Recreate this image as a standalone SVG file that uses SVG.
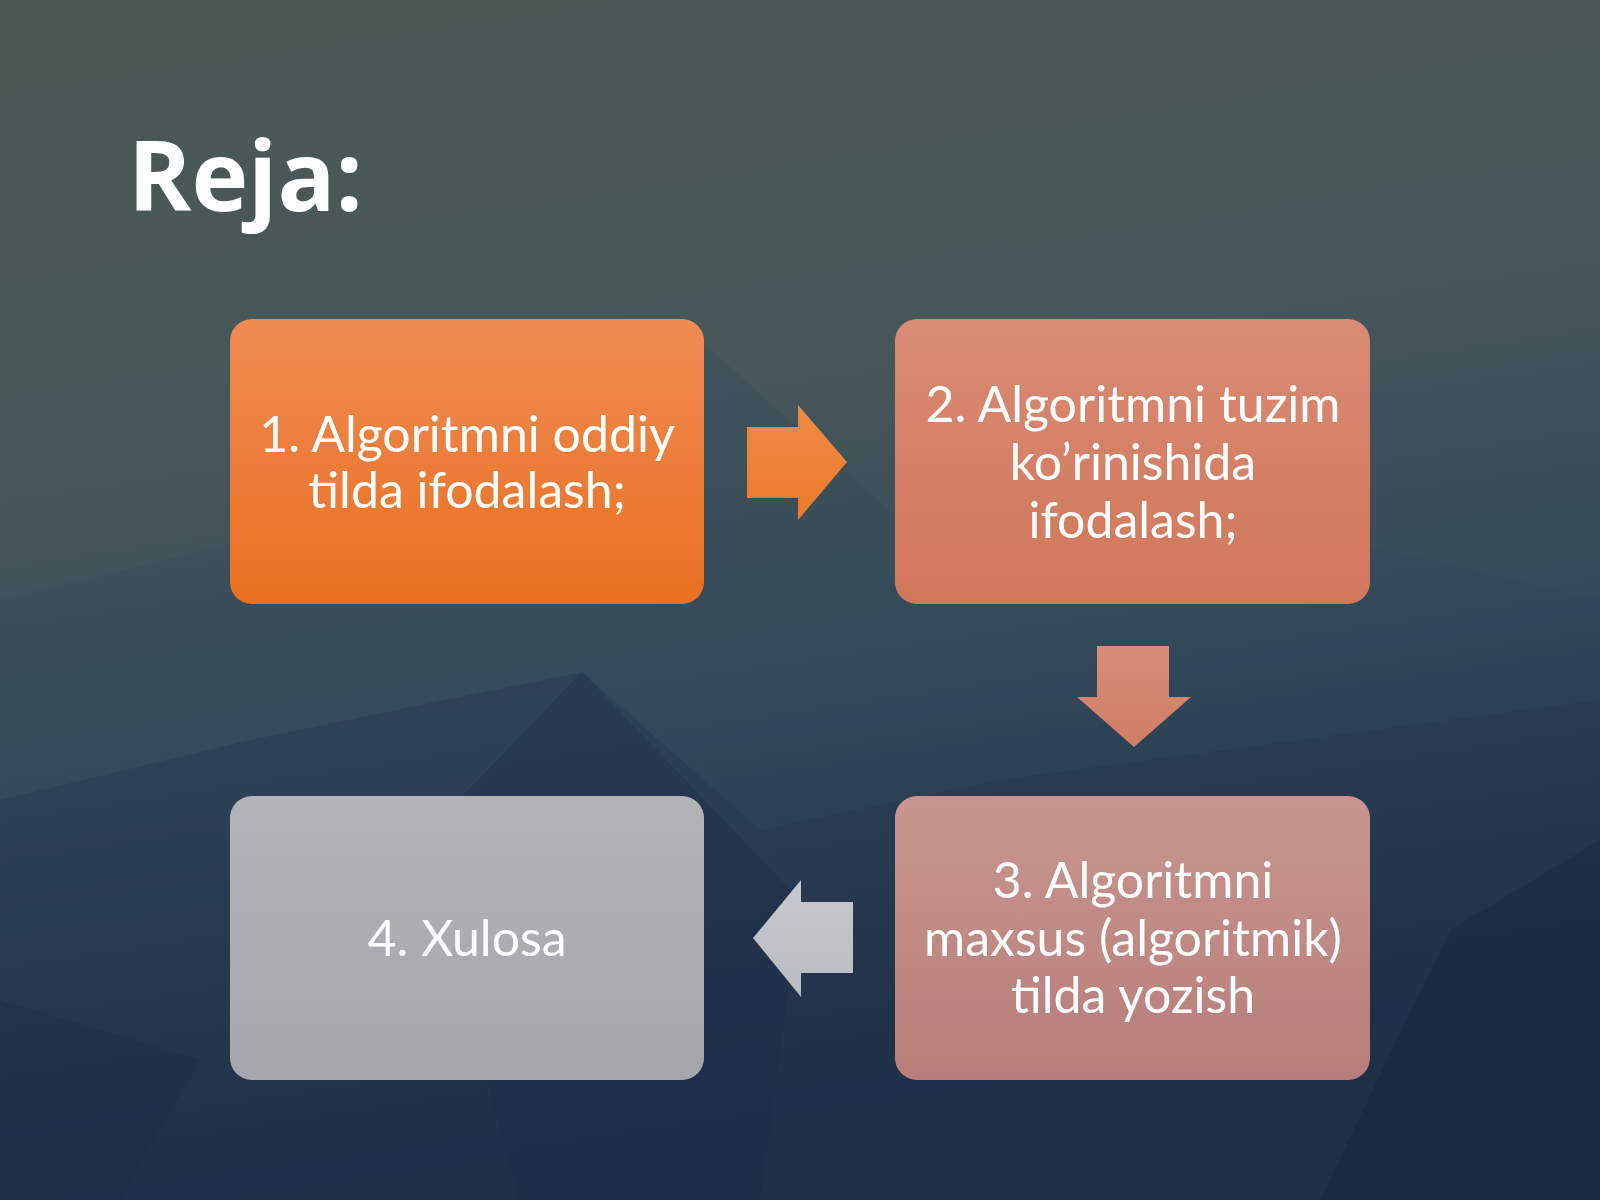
<svg xmlns="http://www.w3.org/2000/svg" width="1600" height="1200" viewBox="0 0 1600 1200">
<defs>
<linearGradient id="bg" x1="0" y1="0" x2="0.2" y2="1">
<stop offset="0" stop-color="#4a5a54"/>
<stop offset="0.4" stop-color="#45575a"/>
<stop offset="0.65" stop-color="#354a5a"/>
<stop offset="1" stop-color="#1a2843"/>
</linearGradient>
<linearGradient id="g1" x1="0" y1="0" x2="0" y2="1">
<stop offset="0" stop-color="#ef8b54"/>
<stop offset="1" stop-color="#e9701f"/>
</linearGradient>
<linearGradient id="g2" x1="0" y1="0" x2="0" y2="1">
<stop offset="0" stop-color="#d98b74"/>
<stop offset="1" stop-color="#d0775a"/>
</linearGradient>
<linearGradient id="g3" x1="0" y1="0" x2="0" y2="1">
<stop offset="0" stop-color="#c8968f"/>
<stop offset="1" stop-color="#b77d7a"/>
</linearGradient>
<linearGradient id="g4" x1="0" y1="0" x2="0" y2="1">
<stop offset="0" stop-color="#b2b4b8"/>
<stop offset="1" stop-color="#a4a6ab"/>
</linearGradient>
<linearGradient id="ga1" x1="0" y1="0" x2="0" y2="1">
<stop offset="0" stop-color="#f08a45"/>
<stop offset="1" stop-color="#ec7a2c"/>
</linearGradient>
<linearGradient id="ga2" x1="0" y1="0" x2="0" y2="1">
<stop offset="0" stop-color="#d68b75"/>
<stop offset="1" stop-color="#d07e66"/>
</linearGradient>
<linearGradient id="ga3" x1="0" y1="0" x2="0" y2="1">
<stop offset="0" stop-color="#c6c8cc"/>
<stop offset="1" stop-color="#b8bbc0"/>
</linearGradient>
</defs>
<style>
.box{stroke:none}
.lbl{font-family:Lato,"Liberation Sans",sans-serif;font-size:50px;fill:#ffffff;text-anchor:middle}
.title{font-family:"Open Sans",Lato,"Liberation Sans",sans-serif;font-size:96px;font-weight:bold;fill:#ffffff}
</style>
<g id="background">
<rect x="0" y="0" width="1600" height="1200" fill="url(#bg)"/>
<polygon points="0,600 330,520 700,340 900,520 1250,520 1600,600 1600,1200 0,1200" fill="#2f4458" opacity="0.2"/>
<polygon points="0,800 250,740 582,672 760,830 1000,780 1300,740 1600,700 1600,1200 0,1200" fill="#22334d" opacity="0.3"/>
<polygon points="582,672 420,840 520,1200 760,1200 800,900" fill="#1c2c47" opacity="0.35"/>
<polygon points="1450,930 1600,840 1600,1200 1320,1200" fill="#14213a" opacity="0.35"/>
<polygon points="0,1000 200,1060 120,1200 0,1200" fill="#1a2a45" opacity="0.3"/>
</g>
<text class="title" x="128" y="211">Reja:</text>
<g id="connectors">
<polygon id="arrow-1-2" points="747,427 798,427 798,405 847,462 798,520 798,498 747,498" fill="url(#ga1)"/>
<polygon id="arrow-2-3" points="1097,646 1169,646 1169,697 1191,697 1134,747 1077,697 1097,697" fill="url(#ga2)"/>
<polygon id="arrow-3-4" points="853,902 801,902 801,880 753,938 801,997 801,973 853,973" fill="url(#ga3)"/>
</g>
<g id="node1">
<rect class="box" x="230" y="319" width="474" height="285" rx="22" fill="url(#g1)"/>
<text class="lbl" x="467" y="452">1. Algoritmni oddiy</text>
<text class="lbl" x="467" y="508">tilda ifodalash;</text>
</g>
<g id="node2">
<rect class="box" x="895" y="319" width="475" height="285" rx="22" fill="url(#g2)"/>
<text class="lbl" x="1133" y="422">2. Algoritmni tuzim</text>
<text class="lbl" x="1133" y="480">ko’rinishida</text>
<text class="lbl" x="1133" y="538">ifodalash;</text>
</g>
<g id="node3">
<rect class="box" x="895" y="796" width="475" height="284" rx="22" fill="url(#g3)"/>
<text class="lbl" x="1133" y="898">3. Algoritmni</text>
<text class="lbl" x="1133" y="956">maxsus (algoritmik)</text>
<text class="lbl" x="1133" y="1013">tilda yozish</text>
</g>
<g id="node4">
<rect class="box" x="230" y="796" width="474" height="284" rx="22" fill="url(#g4)"/>
<text class="lbl" x="467" y="956">4. Xulosa</text>
</g>
</svg>
